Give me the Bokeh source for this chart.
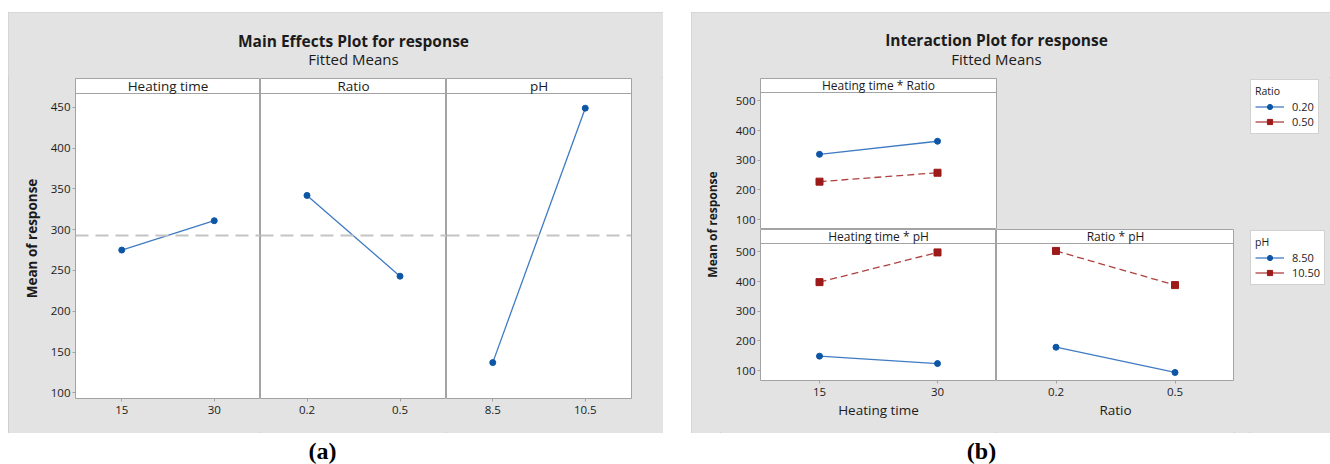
import numpy as np
from bokeh.plotting import figure
from bokeh.layouts import row, column
from bokeh.models import (Range1d, FixedTicker, Span, Label, Legend, LegendItem,
                          Spacer, LinearAxis)
from bokeh.embed import file_html
from bokeh.resources import INLINE
from bokeh.core.validation import silence
from bokeh.core.validation.warnings import MISSING_RENDERERS

silence(MISSING_RENDERERS, True)

# ---------------- data ----------------
factors = ["Heating time", "Ratio", "pH"]
heat_levels = [15, 30]
ratio_levels = [0.2, 0.5]
ph_levels = [8.5, 10.5]
heat_ticklabels = ["15", "30"]
ratio_ticklabels = ["0.2", "0.5"]
ph_ticklabels = ["8.5", "10.5"]

main_heat = [275, 311]
main_ratio = [342, 243]
main_ph = [137, 449]

hr_ratio020 = [320, 364]
hr_ratio050 = [228, 258]
hp_ph850 = [149, 124]
hp_ph1050 = [398, 498]
rp_ph850 = [179, 94]
rp_ph1050 = [503, 388]

ratio_names = ["0.20", "0.50"]
ph_names = ["8.50", "10.50"]
inter_titles = ["Heating time * Ratio", "Heating time * pH", "Ratio * pH"]

yticks_main = [100, 150, 200, 250, 300, 350, 400, 450]
yticks_inter = [100, 200, 300, 400, 500]

# ---------------- styles ----------------
GRAY = "#e3e3e3"
EDGE = "#a3a3a3"
BOX_EDGE = "#c9c9c9"
BLUE = "#0d56a6"
BLUE_L = "#3f7bc2"
RED = "#9c1a1a"
RED_L = "#b04040"
TXT = "#1b1b1b"
FONT = "Open Sans"
RED_DASH = "7 4"


def base_fig(w, h, xr, yr, **kw):
    p = figure(width=w, height=h, x_range=xr, y_range=yr, output_backend="svg",
               toolbar_location=None, title=None, x_axis_type=None, y_axis_type=None,
               min_border=0, **kw)
    p.border_fill_color = GRAY
    p.background_fill_color = "white"
    p.outline_line_color = EDGE
    return p


def gray_fig(w, h):
    p = base_fig(w, h, Range1d(0, 1), Range1d(0, 1))
    p.background_fill_color = GRAY
    p.outline_line_color = None
    return p


def facet(w, h, levels, ylo, yhi, plot_h, strip_h, strip_text, strip_size,
          bl=0, br=0, bt=0, bb=0):
    lo, hi = min(levels), max(levels)
    d = hi - lo
    yend = yhi + strip_h * (yhi - ylo) / plot_h
    p = base_fig(w, h, Range1d(lo - d / 2, hi + d / 2), Range1d(ylo, yend),
                 min_border_left=bl, min_border_right=br,
                 min_border_top=bt, min_border_bottom=bb)
    p.add_layout(Span(location=yhi, dimension="width", line_color=EDGE, line_width=1))
    p.add_layout(Label(x=(lo + hi) / 2, y=(yhi + yend) / 2, text=strip_text,
                       text_align="center", text_baseline="middle", text_font=FONT,
                       text_font_size=strip_size, text_color=TXT))
    return p


def add_xaxis(p, levels, labels, label=None, standoff=4):
    ax = LinearAxis(ticker=FixedTicker(ticks=levels),
                    major_label_overrides={lv: lb for lv, lb in zip(levels, labels)},
                    axis_line_color=None, major_tick_line_color=EDGE,
                    major_tick_in=0, major_tick_out=3, minor_tick_line_color=None,
                    major_label_standoff=standoff, major_label_text_font=FONT,
                    major_label_text_font_size="11.5px", major_label_text_color=TXT)
    if label:
        ax.axis_label = label
        ax.axis_label_text_font = FONT
        ax.axis_label_text_font_size = "13.5px"
        ax.axis_label_text_font_style = "normal"
        ax.axis_label_text_color = TXT
        ax.axis_label_standoff = 2
    p.add_layout(ax, "below")


def add_yaxis(p, ticks, label=None, size="13.5px"):
    ax = LinearAxis(ticker=FixedTicker(ticks=ticks),
                    axis_line_color=None, major_tick_line_color=EDGE,
                    major_tick_in=0, major_tick_out=3, minor_tick_line_color=None,
                    major_label_standoff=2, major_label_text_font=FONT,
                    major_label_text_font_size="11.5px", major_label_text_color=TXT)
    if label:
        ax.axis_label = label
        ax.axis_label_text_font = FONT
        ax.axis_label_text_font_size = size
        ax.axis_label_text_font_style = "bold"
        ax.axis_label_text_color = TXT
        ax.axis_label_standoff = 7
    p.add_layout(ax, "left")


def header(w, h, cx, title, subtitle, ty, sy):
    p = base_fig(w, h, Range1d(0, w), Range1d(h, 0))
    p.background_fill_color = GRAY
    p.outline_line_color = None
    p.add_layout(Label(x=cx, y=ty, text=title, text_align="center", text_baseline="middle",
                       text_font=FONT, text_font_size="15.5px", text_font_style="bold",
                       text_color=TXT))
    p.add_layout(Label(x=cx, y=sy, text=subtitle, text_align="center", text_baseline="middle",
                       text_font=FONT, text_font_size="15px", text_color=TXT))
    return p


def caption(w, h, cx, cy, text):
    p = base_fig(w, h, Range1d(0, w), Range1d(h, 0))
    p.border_fill_color = "white"
    p.background_fill_color = "white"
    p.outline_line_color = None
    p.add_layout(Label(x=cx, y=cy, text=text, text_align="center", text_baseline="middle",
                       text_font="Liberation Serif", text_font_size="24px",
                       text_font_style="bold", text_color="#000000"))
    return p


def series(p, x, y, color, lcolor, marker, size, dash="solid"):
    l = p.line(x, y, line_color=lcolor, line_width=1.3, line_dash=dash)
    s = p.scatter(x, y, marker=marker, size=size, fill_color=color, line_color=color)
    return l, s


def white_spacer(w, h):
    return Spacer(width=w, height=h, styles={"background-color": "white"})


def legend_fig(w, h, title, names, xs, ys_list):
    """A small gray canvas holding a legend whose keys repeat the panel's series."""
    p = gray_fig(w, h)
    styles = [(BLUE, BLUE_L, "circle", 6), (RED, RED_L, "square", 7)]
    items = []
    for name, ys, (c, lc, m, sz) in zip(names, ys_list, styles):
        l, s = series(p, xs, ys, c, lc, m, sz)
        l.visible = False
        s.visible = False
        items.append(LegendItem(label=name, renderers=[l, s]))
    lg = Legend(items=items, title=title, location="top_left", orientation="vertical",
                border_line_color=EDGE, background_fill_color="white",
                background_fill_alpha=1, padding=4, spacing=0, margin=1,
                inactive_fill_alpha=0,
                glyph_width=29, glyph_height=13, label_height=13, label_standoff=8,
                label_text_font=FONT, label_text_font_size="11px", label_text_color=TXT,
                title_text_font=FONT, title_text_font_size="10.5px",
                title_text_font_style="normal", title_text_color=TXT, title_standoff=1)
    p.add_layout(lg)
    return p


BOX_STYLE = {"background-color": GRAY, "outline": "1px solid " + BOX_EDGE,
             "outline-offset": "-1px"}

# ================= Panel (a): main effects =================
WA = 655
grand_mean = float(np.mean(main_heat + main_ratio + main_ph))
A_YLO, A_YHI, A_PH, A_SH = 93, 467, 305, 15
A_H = 356

head_a = header(WA, 65, 345, "Main Effects Plot for response", "Fitted Means", 28, 46.5)

fa1 = facet(252, A_H, heat_levels, A_YLO, A_YHI, A_PH, A_SH, factors[0], "13.5px",
            bl=67, bt=1, bb=35)
fa2 = facet(186, A_H, ratio_levels, A_YLO, A_YHI, A_PH, A_SH, factors[1], "13.5px",
            bt=1, bb=35)
fa3 = facet(217, A_H, ph_levels, A_YLO, A_YHI, A_PH, A_SH, factors[2], "13.5px",
            br=32, bt=1, bb=35)

for p, lv, lab, vals in ((fa1, heat_levels, heat_ticklabels, main_heat),
                         (fa2, ratio_levels, ratio_ticklabels, main_ratio),
                         (fa3, ph_levels, ph_ticklabels, main_ph)):
    p.add_layout(Span(location=grand_mean, dimension="width", line_color="#c4c4c4",
                      line_width=2, line_dash="13 7"))
    series(p, lv, vals, BLUE, BLUE_L, "circle", 6)
    add_xaxis(p, lv, lab)
add_yaxis(fa1, yticks_main, "Mean of response", "13.5px")

cap_a = caption(WA, 31, 314, 17, "(a)")

box_a = column(head_a, row(fa1, fa2, fa3), styles=BOX_STYLE)
col_a = column(white_spacer(WA, 12), box_a, cap_a)

# ================= Panel (b): interaction =================
WB = 639
B_YLO, B_YHI, B_PH, B_SH = 67, 528, 137, 14

head_b = header(WB, 65, 305, "Interaction Plot for response", "Fitted Means", 27, 46)

ylab_b = gray_fig(29, 356)
ylab_b.x_range = Range1d(0, 29)
ylab_b.y_range = Range1d(356, 0)
ylab_b.add_layout(Label(x=21, y=147, text="Mean of response", angle=np.pi / 2,
                        text_align="center", text_baseline="middle", text_font=FONT,
                        text_font_size="12px", text_font_style="bold", text_color=TXT))

fb11 = facet(514, 152, heat_levels, B_YLO, B_YHI, B_PH, B_SH, inter_titles[0], "12px",
             bl=40, br=238, bt=1)
fb21 = facet(276, 204, heat_levels, B_YLO, B_YHI, B_PH, B_SH, inter_titles[1], "12px",
             bl=40, bb=53)
fb22 = facet(238, 204, ratio_levels, B_YLO, B_YHI, B_PH, B_SH, inter_titles[2], "12px",
             bb=53)

add_yaxis(fb11, yticks_inter)
add_yaxis(fb21, yticks_inter)
add_xaxis(fb21, heat_levels, heat_ticklabels, factors[0], standoff=4)
add_xaxis(fb22, ratio_levels, ratio_ticklabels, factors[1], standoff=4)

series(fb11, heat_levels, hr_ratio020, BLUE, BLUE_L, "circle", 6)
series(fb11, heat_levels, hr_ratio050, RED, RED_L, "square", 7, RED_DASH)
series(fb21, heat_levels, hp_ph850, BLUE, BLUE_L, "circle", 6)
series(fb21, heat_levels, hp_ph1050, RED, RED_L, "square", 7, RED_DASH)
series(fb22, ratio_levels, rp_ph850, BLUE, BLUE_L, "circle", 6)
series(fb22, ratio_levels, rp_ph1050, RED, RED_L, "square", 7, RED_DASH)

leg_ratio = legend_fig(81, 152, factors[1], ratio_names, heat_levels,
                       [hr_ratio020, hr_ratio050])
leg_ph = legend_fig(81, 204, factors[2], ph_names, ratio_levels,
                    [rp_ph850, rp_ph1050])

grid_b = column(row(fb11, gray_fig(15, 152), leg_ratio),
                row(fb21, fb22, gray_fig(15, 204), leg_ph))
cap_b = caption(WB, 31, 290, 17, "(b)")

box_b = column(head_b, row(ylab_b, grid_b), styles=BOX_STYLE)
col_b = column(white_spacer(WB, 12), box_b, cap_b)

layout = row(white_spacer(8, 464), col_a, white_spacer(28, 464), col_b)

open("out.html", "w").write(file_html(layout, INLINE))
